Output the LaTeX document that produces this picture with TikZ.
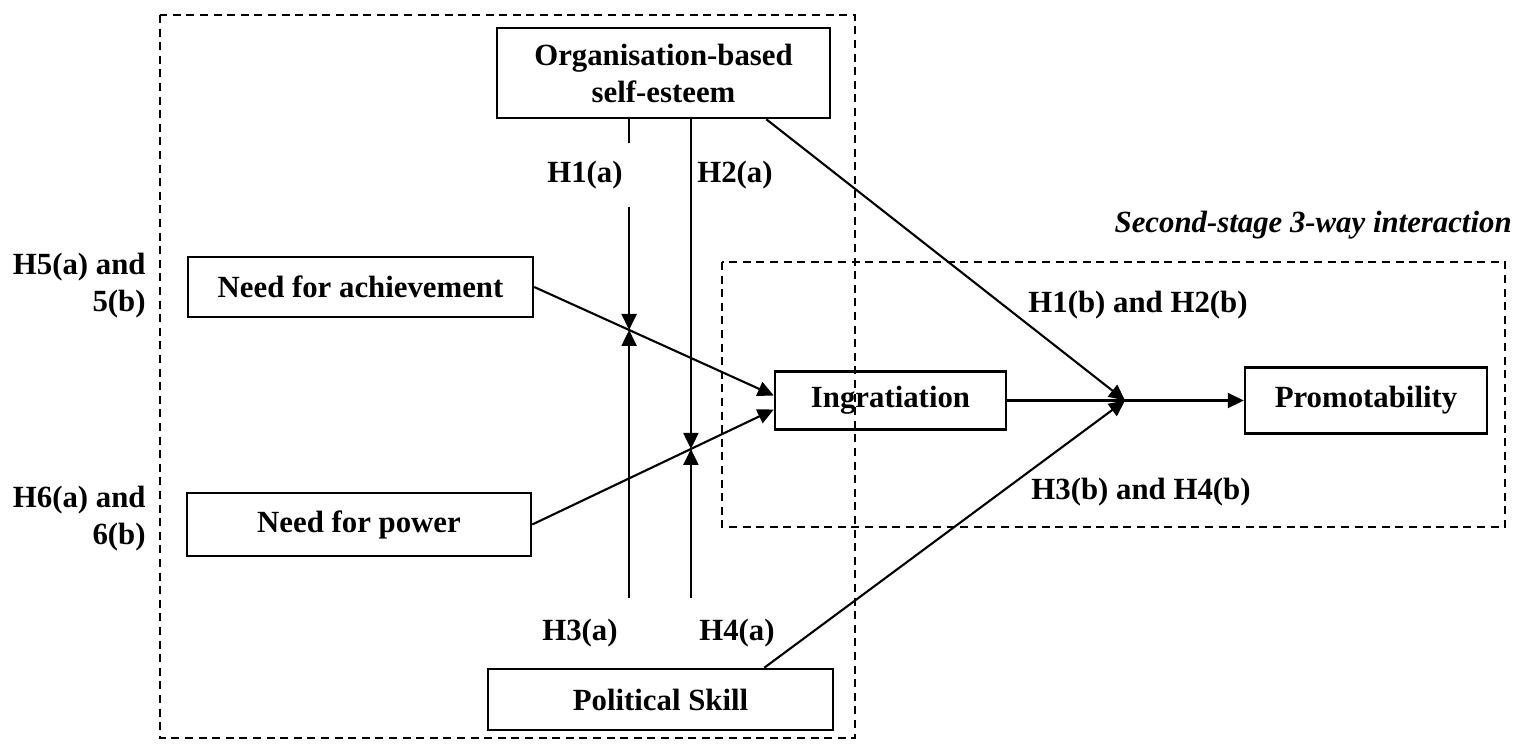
\documentclass[tikz,border=0pt]{standalone}
\usepackage{fontspec}
\setmainfont{Liberation Serif}
\usetikzlibrary{arrows.meta,calc}

\tikzset{
  lbl/.style={font=\bfseries\fontsize{15.4}{18.5}\selectfont, inner sep=0pt},
  varbox/.style={lbl, draw, line width=1.25pt, align=center},
  link/.style={line width=1.05pt},
  arr/.style={link, -{Triangle[length=8pt,width=7.5pt]}},
  stagebox/.style={line width=1.1pt, dash pattern=on 4pt off 2.8pt},
}

\begin{document}
\begin{tikzpicture}[x=0.5pt,y=-0.5pt]
  \useasboundingbox (0,0) rectangle (1529,745);

  % stage frames
  \draw[stagebox] (160,15) rectangle (855,738);
  \draw[stagebox] (722,262) rectangle (1505,527);

  % variables
  \node[varbox, minimum width=166.5pt, minimum height=45pt] (org) at (663.5,73)
    {Organisation-based\\self-esteem};
  \node[varbox, minimum width=172.5pt, minimum height=30pt] (nfa) at (360.5,287)
    {Need for achievement};
  \node[varbox, minimum width=172pt, minimum height=31.5pt] (nfp) at (359,524.5)
    {Need for power};
  \node[varbox, minimum width=115.5pt, minimum height=29pt] (ing) at (890.5,400.5)
    {Ingratiation};
  \node[varbox, minimum width=121pt, minimum height=33pt] (promo) at (1366,400.5)
    {Promotability};
  \node[varbox, minimum width=172.5pt, minimum height=30.5pt] (ps) at (660.5,699.5)
    {Political Skill};

  % hypothesis labels
  \node[lbl, minimum height=31.5pt] (h1a) at (585,175) {H1(a)};
  \node[lbl] (h2a) at (735,175) {H2(a)};
  \node[lbl, minimum height=35pt] (h3a) at (580,633) {H3(a)};
  \node[lbl, minimum height=35pt] (h4a) at (737,633) {H4(a)};
  \node[lbl] (h12b) at (1138,305) {H1(b) and H2(b)};
  \node[lbl] (h34b) at (1141,492) {H3(b) and H4(b)};
  \node[lbl, align=right, anchor=east] (h56) at (146,286) {H5(a) and\\5(b)};
  \node[lbl, align=right, anchor=east] (h66) at (146,519) {H6(a) and\\6(b)};
  \node[lbl, anchor=east, font=\bfseries\itshape\fontsize{15.4}{18.5}\selectfont]
    (stage2) at (1512,225) {Second-stage 3-way interaction};

  % first-stage paths into ingratiation
  \coordinate (inA) at ([yshift=2.5pt]ing.west);
  \coordinate (inP) at ([yshift=-4.5pt]ing.west);
  \draw[arr] (nfa.east) -- (inA);
  \draw[arr] (nfp.east) -- (inP);

  % moderation points on the first-stage paths
  \coordinate (m1) at ($(nfa.east)!0.396!(inA)$);
  \coordinate (m2) at ($(nfp.east)!0.657!(inP)$);

  \draw[link] (org.south -| m1) -- (m1 |- h1a.north);
  \draw[arr] (m1 |- h1a.south) -- (m1);
  \draw[arr] (org.south -| m2) -- (m2);
  \draw[arr] (m1 |- h3a.north) -- (m1);
  \draw[arr] (m2 |- h4a.north) -- (m2);

  % second stage
  \coordinate (c) at ($(ing.east)!0.498!(promo.west)$);
  \draw[arr] (ing.east) -- (promo.west);
  \draw[arr] ([xshift=-32.5pt]org.south east) -- (c);
  \draw[arr] ([xshift=-35pt]ps.north east) -- (c);
\end{tikzpicture}
\end{document}
